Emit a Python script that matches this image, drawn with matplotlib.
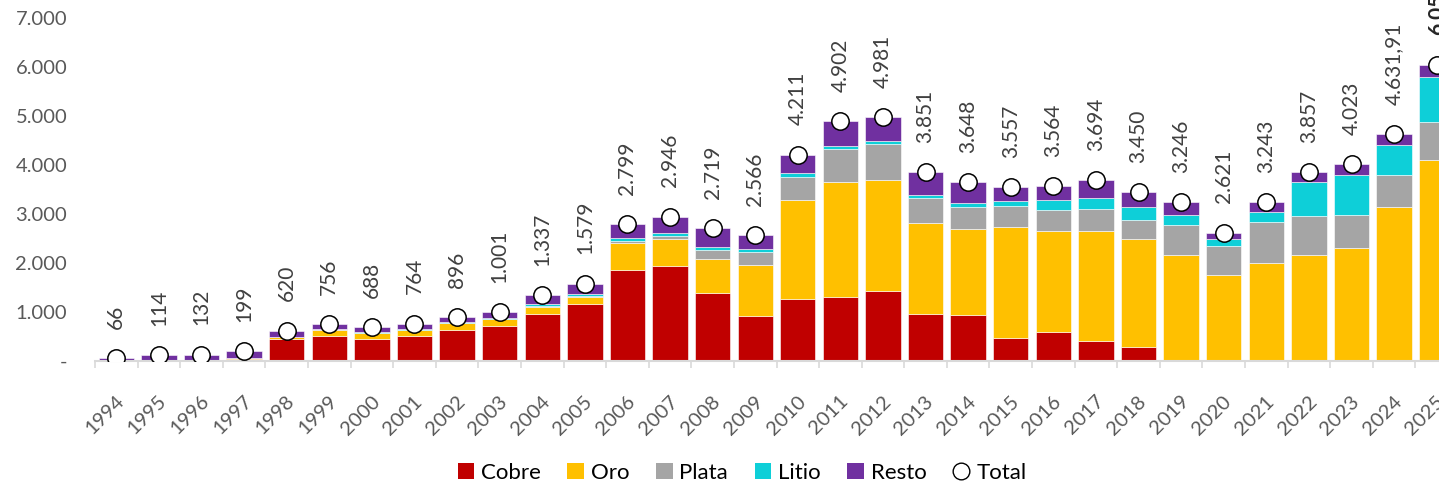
import matplotlib
matplotlib.use("Agg")
import matplotlib.pyplot as plt
import matplotlib.transforms as mtransforms
from matplotlib.lines import Line2D
from matplotlib.patches import Patch
import numpy as np

years = [str(y) for y in range(1994, 2026)]
cobre = [0, 10, 5, 50, 440, 515, 455, 515, 640, 720, 965, 1156, 1864, 1939, 1381, 912,
         1272, 1313, 1435, 952, 932, 469, 599, 401, 279, 0, 0, 0, 0, 0, 0, 0]
oro = [5, 0, 0, 5, 40, 125, 110, 115, 130, 130, 135, 143, 551, 558, 707, 1041,
       2014, 2333, 2259, 1864, 1762, 2265, 2048, 2259, 2204, 2156, 1762, 2000, 2156, 2299, 3143, 4102]
plata = [0, 0, 0, 2, 10, 5, 8, 8, 8, 10, 20, 20, 27, 54, 170, 265,
         476, 687, 735, 510, 449, 435, 435, 449, 388, 619, 592, 830, 803, 673, 646, 776]
litio = [0, 0, 0, 2, 10, 5, 10, 10, 10, 20, 35, 48, 68, 54, 75, 68,
         68, 54, 54, 61, 82, 95, 197, 218, 272, 197, 136, 211, 694, 830, 619, 912]
total = [66, 114, 132, 199, 620, 756, 688, 764, 896, 1001, 1337, 1579, 2799, 2946, 2719, 2566,
         4211, 4902, 4981, 3851, 3648, 3557, 3564, 3694, 3450, 3246, 2621, 3243, 3857, 4023, 4631.91, 6051]
total_labels = ["66", "114", "132", "199", "620", "756", "688", "764", "896", "1.001", "1.337",
                "1.579", "2.799", "2.946", "2.719", "2.566", "4.211", "4.902", "4.981", "3.851",
                "3.648", "3.557", "3.564", "3.694", "3.450", "3.246", "2.621", "3.243", "3.857",
                "4.023", "4.631,91", "6.051"]
resto = [t - c - o - p - l for t, c, o, p, l in zip(total, cobre, oro, plata, litio)]

series = [("Cobre", cobre, "#C00000"), ("Oro", oro, "#FFC000"), ("Plata", plata, "#A5A5A5"),
          ("Litio", litio, "#0ECFD8"), ("Resto", resto, "#7030A0")]

FONT = "Lato"
TXT = "#595959"
plt.rcParams["font.family"] = [FONT, "DejaVu Sans"]

W, H = 1439, 482
fig = plt.figure(figsize=(W / 100, H / 100), dpi=100)
left_px, right_px, bottom_px, top_px = 95, 1458, 361, 18
ax = fig.add_axes([left_px / W, 1 - bottom_px / H, (right_px - left_px) / W, (bottom_px - top_px) / H])

x = np.arange(len(years))
bottom = np.zeros(len(years))
for name, vals, col in series:
    v = np.array(vals, dtype=float)
    ax.bar(x, v, width=0.83, bottom=bottom, color=col, edgecolor="white", linewidth=0.4, label=name, zorder=2)
    bottom += v

ax.plot(x, total, linestyle="none", marker="o", markersize=12.5, markerfacecolor="white",
        markeredgecolor="black", markeredgewidth=1.1, zorder=4)

for i, (t, lab) in enumerate(zip(total, total_labels)):
    bold = i == len(total) - 1
    ax.annotate(lab, (x[i], t), xytext=(0, 21), textcoords="offset points", rotation=90,
                ha="center", va="bottom", fontsize=15, color="#404040" if not bold else "#262626",
                fontweight="bold" if bold else "normal", annotation_clip=False, zorder=5)

ax.set_xlim(-0.5, len(years) - 0.5)
ax.set_ylim(0, 7000)
yt = np.arange(0, 7001, 1000)
ax.set_yticks(yt)
ax.set_yticklabels(["-"] + [f"{v:,.0f}".replace(",", ".") for v in yt[1:]], fontsize=14.5, color=TXT)
ax.tick_params(axis="y", length=0, pad=20)

ax.set_xticks(x)
ax.set_xticklabels(years, rotation=45, ha="right", va="center", rotation_mode="anchor",
                   fontsize=14.5, color=TXT)
ax.tick_params(axis="x", which="major", length=0, pad=27)
ax.set_xticks(np.arange(-0.5, len(years), 1), minor=True)
ax.tick_params(axis="x", which="minor", length=5, width=1.2, color="#D9D9D9", direction="out")
offset = mtransforms.ScaledTranslation(5 / 100, 0, fig.dpi_scale_trans)
for lbl in ax.get_xticklabels():
    lbl.set_transform(lbl.get_transform() + offset)

for s in ["top", "right", "left"]:
    ax.spines[s].set_visible(False)
ax.spines["bottom"].set_color("#D9D9D9")
ax.spines["bottom"].set_linewidth(1.5)

handles = [Patch(facecolor=c, edgecolor="none", label=n) for n, _, c in series]
handles.append(Line2D([], [], linestyle="none", marker="o", markersize=12, markerfacecolor="white",
                      markeredgecolor="black", markeredgewidth=1.0, label="Total"))
fig.legend(handles=handles, loc="center", bbox_to_anchor=(742 / W, 1 - 473 / H), ncol=6,
           frameon=False, fontsize=16, handlelength=0.75, handleheight=0.75, handletextpad=0.3,
           columnspacing=1.2, labelcolor="black")

fig.savefig("out.png", dpi=100)
